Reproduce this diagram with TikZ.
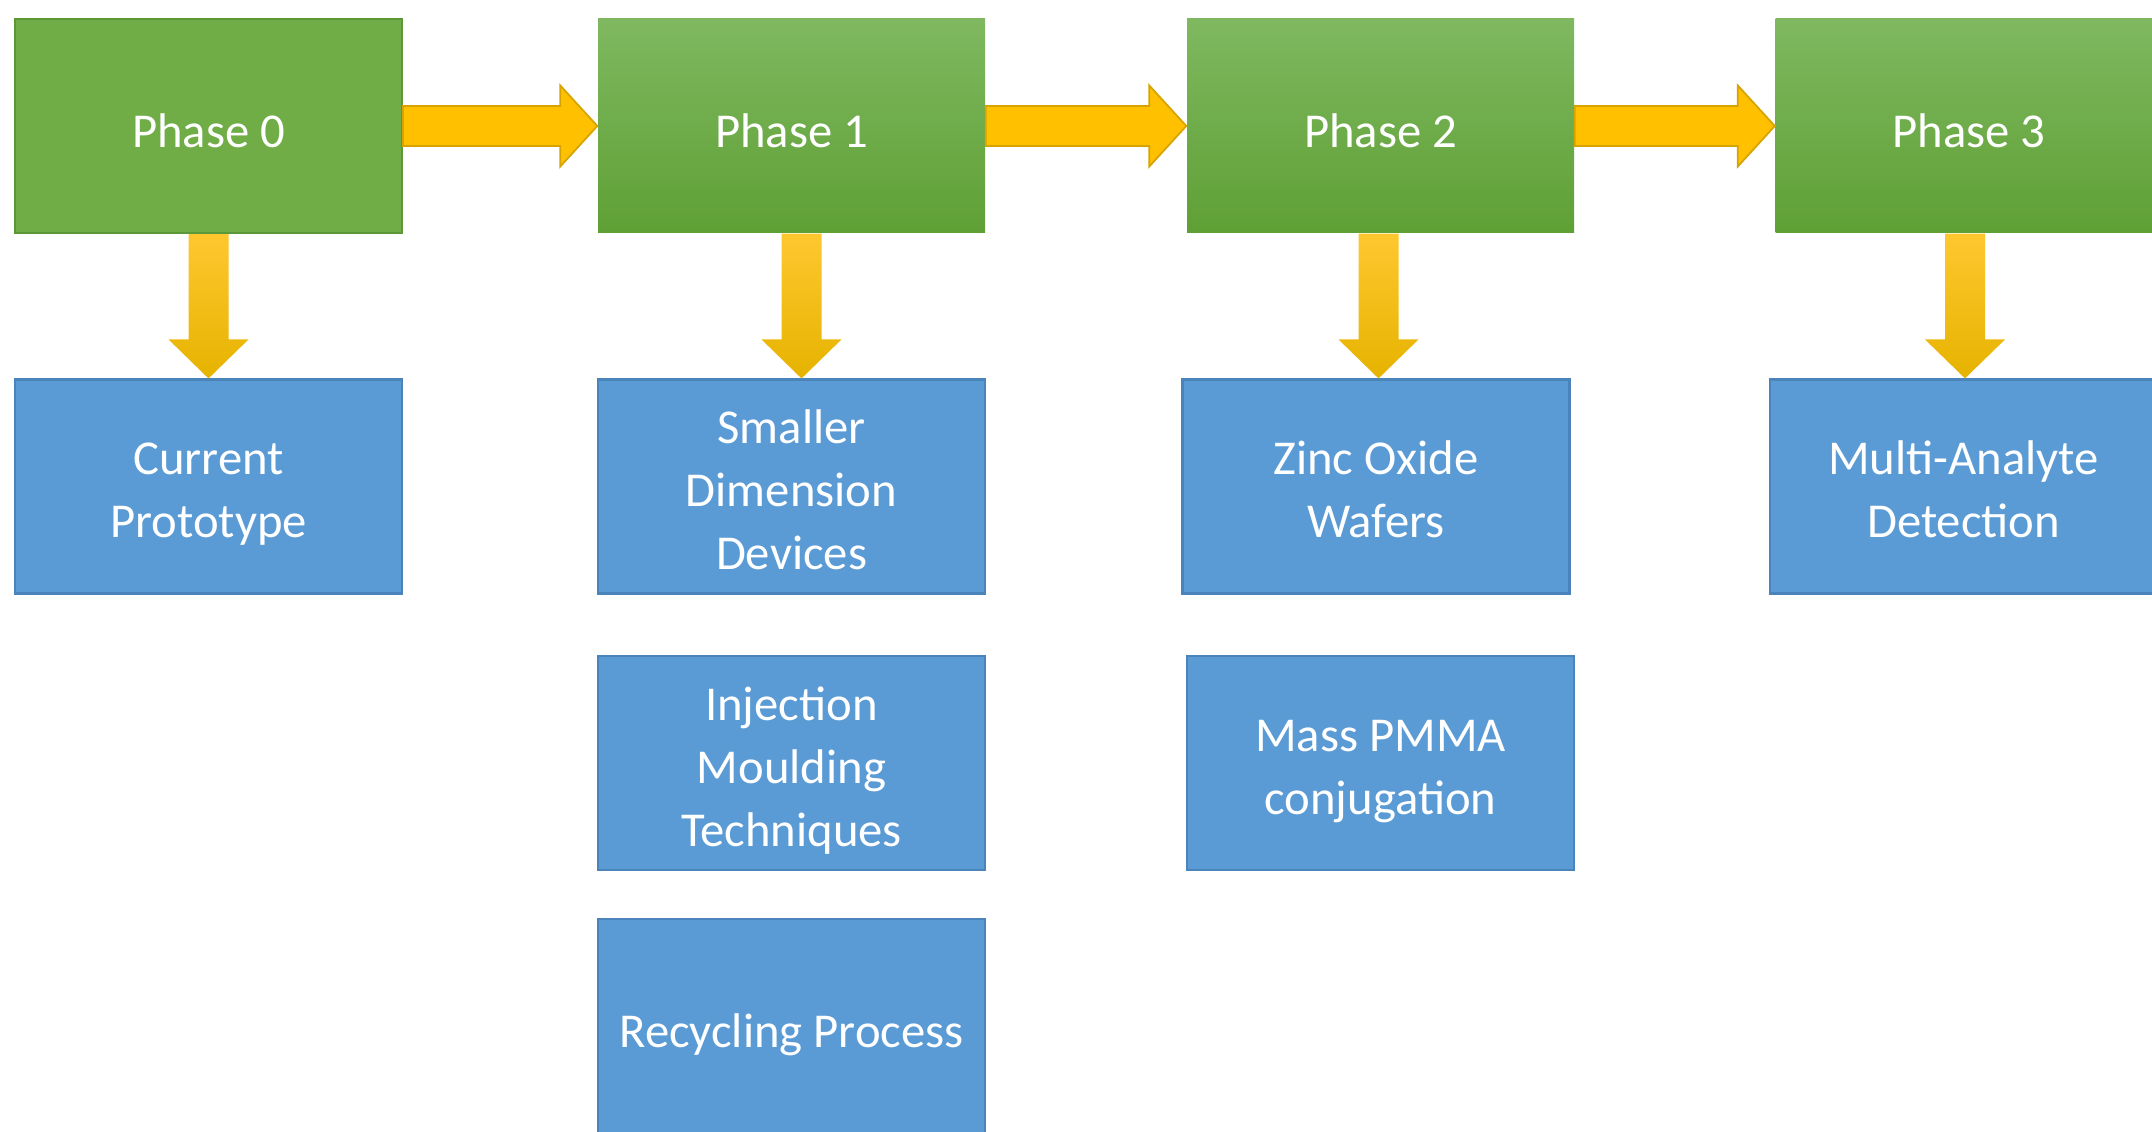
\documentclass[tikz,border=0pt]{standalone}
\usepackage{fontspec}
\setmainfont{Carlito}
\usetikzlibrary{calc}
\definecolor{phasegreen}{HTML}{70AD47}
\definecolor{phaseedge}{HTML}{5B9838}
\definecolor{greentop}{HTML}{7FB860}
\definecolor{greenmid}{HTML}{6DAE44}
\definecolor{greenbottom}{HTML}{5FA035}
\definecolor{taskblue}{HTML}{5B9BD5}
\definecolor{taskedge}{HTML}{4A84BA}
\definecolor{flowyellow}{HTML}{FFC000}
\definecolor{flowedge}{HTML}{D6A300}
\definecolor{droptop}{HTML}{FFC72F}
\definecolor{dropbottom}{HTML}{E6B300}
\begin{document}
\begin{tikzpicture}[
    box/.style={rectangle, minimum width=3.87cm, minimum height=2.14cm, inner sep=0pt,
        text=white, align=center, text height=12pt, text depth=0pt,
        font=\fontsize{13.85}{17.9}\selectfont},
    two lines/.style={text height=29.1pt},
    three lines/.style={text height=47.4pt},
    phasezero/.style={box, fill=phasegreen, draw=phaseedge, line width=0.6pt},
    phase/.style={box, top color=greentop, middle color=greenmid, bottom color=greenbottom},
    task/.style={box, fill=taskblue, draw=taskedge, line width=0.6pt},
    flow/.style={fill=flowyellow, draw=flowedge, line width=0.5pt},
    drop/.style={top color=droptop, middle color=flowyellow, bottom color=dropbottom}
]
\path[fill=white, use as bounding box] (0,0) rectangle (21.52,-11.32);

\node[phasezero] (p0) at (2.085,-1.26) {Phase 0};
\node[phase] (p1) at (7.915,-1.26) {Phase 1};
\node[phase] (p2) at (13.805,-1.26) {Phase 2};
\node[phase] (p3) at (19.69,-1.26) {Phase 3};

\node[task, two lines] (c0) at (2.085,-4.865) {Current\\Prototype};
\node[task, three lines] (c1) at (7.915,-4.865) {Smaller\\Dimension\\Devices};
\node[task, two lines] (c2) at (13.76,-4.865) {Zinc Oxide\\Wafers};
\node[task, two lines] (c3) at (19.635,-4.865) {Multi-Analyte\\Detection};

\node[task, three lines] (i1) at (7.915,-7.63) {Injection\\Moulding\\Techniques};
\node[task, two lines] (m2) at (13.805,-7.63) {Mass PMMA\\conjugation};
\node[task] (r1) at (7.915,-10.26) {Recycling Process};

\foreach \a/\b in {p0/p1, p1/p2, p2/p3}
    \draw[flow] ($(\a.east)+(0,0.2)$) -- ($(\b.west)+(-0.37,0.2)$) -- ($(\b.west)+(-0.37,0.405)$)
        -- (\b.west) -- ($(\b.west)+(-0.37,-0.405)$) -- ($(\b.west)+(-0.37,-0.2)$)
        -- ($(\a.east)+(0,-0.2)$) -- cycle;

\foreach \a/\b/\s in {p0/c0/0cm, p1/c1/0.1cm, p2/c2/-0.02cm, p3/c3/-0.04cm}
    \shade[drop] let \p1=($(\a.south)+(\s,0)$), \p2=(\b.north) in
        (\x1-0.2cm,\y1) -- (\x1+0.2cm,\y1) -- (\x1+0.2cm,\y2+0.39cm) -- (\x1+0.4cm,\y2+0.39cm)
        -- (\x1,\y2) -- (\x1-0.4cm,\y2+0.39cm) -- (\x1-0.2cm,\y2+0.39cm) -- cycle;
\end{tikzpicture}
\end{document}
